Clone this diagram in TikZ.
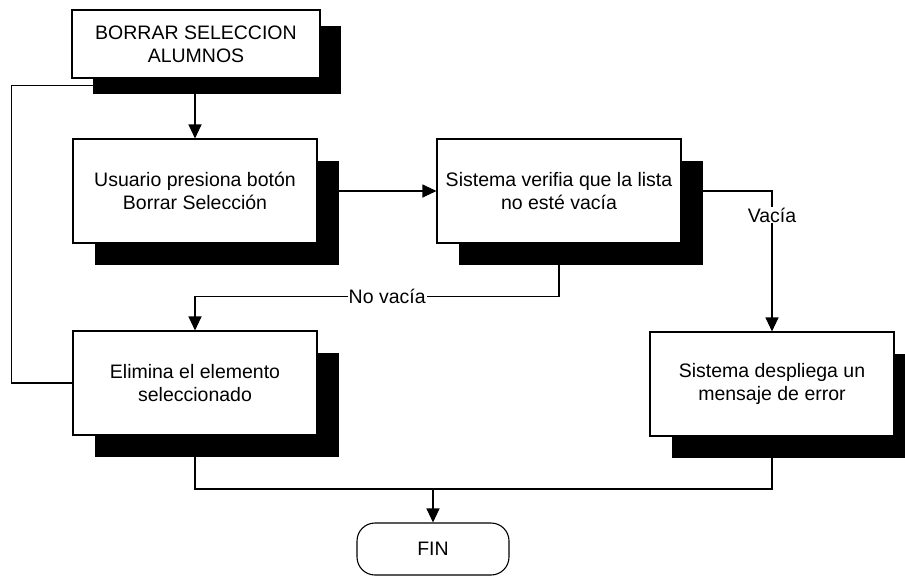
\documentclass[tikz,border=0pt]{standalone}
\usepackage{fontspec}
\setmainfont{Liberation Sans}
\usepackage{tikz}
\usetikzlibrary{arrows.meta, shadows, backgrounds}

\newcommand{\flowfont}{\fontsize{19.5}{23}\selectfont}

\begin{document}
\begin{tikzpicture}[
    x=1pt, y=-1pt,
    base/.style={draw, line width=1.1pt, fill=white, align=center, font=\flowfont},
    proc/.style={base, minimum width=244pt, minimum height=104pt, drop shadow={shadow xshift=22pt, shadow yshift=-22pt, opacity=1, fill=black}},
    head/.style={base, minimum width=248pt, minimum height=68pt, drop shadow={shadow xshift=21pt, shadow yshift=-16pt, opacity=1, fill=black}},
    term/.style={base, minimum width=152pt, minimum height=52pt, rounded corners=18pt},
    arrow/.style={-{Triangle[length=14pt, width=13pt]}, line width=1.1pt},
    link/.style={line width=1.1pt},
    tag/.style={fill=white, font=\flowfont, inner sep=1pt},
]
\useasboundingbox (0,0) rectangle (905,576);

% Process boxes
\node[head] (inicio) at (196,44) {BORRAR SELECCION\\ALUMNOS};
\node[proc] (boton) at (195,191) {Usuario presiona botón\\Borrar Selección};
\node[proc] (verifica) at (559,191) {Sistema verifia que la lista\\no esté vacía};
\node[proc] (elimina) at (195,383) {Elimina el elemento\\seleccionado};
\node[proc] (error) at (772,384) {Sistema despliega un\\mensaje de error};
\node[term] (fin) at (433,549) {FIN};
\coordinate (junta) at (433,489);

% Connectors (behind the shadows)
\begin{scope}[on background layer]
\draw[arrow] (boton.north |- inicio.south) -- (boton.north);
\draw[arrow] (boton) -- (verifica);
\draw[arrow] (verifica.east) -| node[tag, pos=0.586] {Vacía} (error.north);
\draw[arrow] (verifica.south) -- ++(0,53) -| node[tag, pos=0.236] {No vacía} (elimina.north);
\draw[link] (elimina.west) -- ++(-61,0) |- ([yshift=-7pt]inicio.south);
\draw[link] (elimina.south) |- (junta);
\draw[link] (error.south) |- (junta);
\draw[arrow] (junta) -- (fin.north);
\end{scope}

\end{tikzpicture}
\end{document}
